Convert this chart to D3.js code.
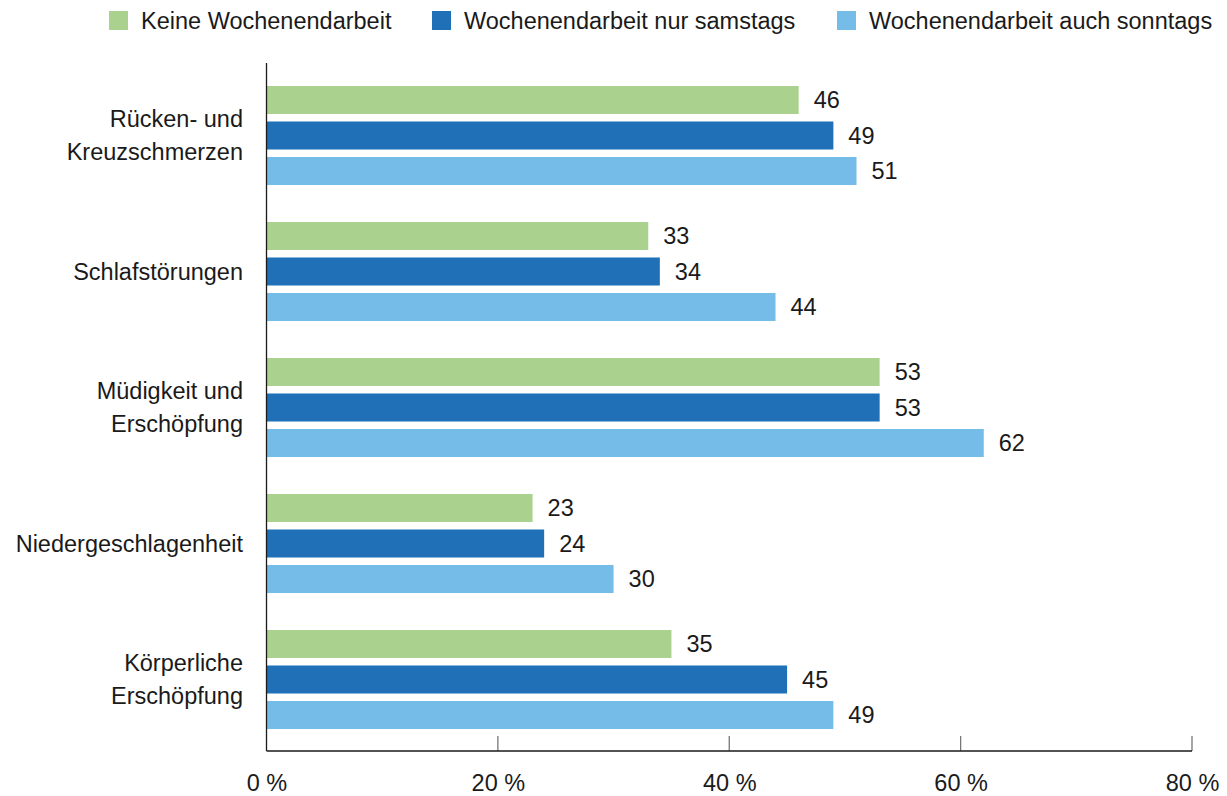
<!DOCTYPE html>
<html>
<head>
<meta charset="utf-8">
<script src="https://cdn.jsdelivr.net/npm/d3@7"></script>
<style>
  body { margin: 0; background: #fff; }
  svg text { font-family: "Liberation Sans", Arial, sans-serif; fill: #1a1a1a; }
</style>
</head>
<body>
<div id="chart"></div>
<script>
var categories = [
  ["Rücken- und", "Kreuzschmerzen"],
  ["Schlafstörungen"],
  ["Müdigkeit und", "Erschöpfung"],
  ["Niedergeschlagenheit"],
  ["Körperliche", "Erschöpfung"]
]
var seriesNames = ["Keine Wochenendarbeit", "Wochenendarbeit nur samstags", "Wochenendarbeit auch sonntags"]
var keine = [46, 33, 53, 23, 35]
var samstags = [49, 34, 53, 24, 45]
var sonntags = [51, 44, 62, 30, 49]
var tickValues = [0, 20, 40, 60, 80]

var colors = ["#abd18f", "#1f70b7", "#75bde8"]
var conf = { w: 1227, h: 796, left: 266.5, right: 1192, top: 67.5, bottom: 751, fs: 23.5 }

var values = [keine, samstags, sonntags]
var rows = categories.map((c, i) => ({ label: c, idx: i, vals: values.map((s, k) => ({ k: k, v: s[i] })) }))

var svg = d3.select('#chart').append('svg')
    .attr('width', conf.w).attr('height', conf.h)

var x = d3.scaleLinear().domain([0, 80]).range([conf.left, conf.right])
var y = d3.scaleBand().domain(d3.range(categories.length)).range([conf.top, conf.top + 136 * 5])
var yInner = d3.scaleBand().domain([0, 1, 2]).range([18.5, 117.5]).paddingInner(0.211)

// bars
var groups = svg.selectAll('.grp')
  .data(rows)
  .enter()
  .append('g')
  .attr('class', 'grp')
  .attr('transform', d => 'translate(0,' + y(d.idx) + ')')

groups.selectAll('rect')
  .data(d => d.vals)
  .enter()
  .append('rect')
  .attr('x', x(0))
  .attr('y', d => yInner(d.k))
  .attr('width', d => x(d.v) - x(0))
  .attr('height', yInner.bandwidth())
  .attr('fill', d => colors[d.k])

groups.selectAll('.val')
  .data(d => d.vals)
  .enter()
  .append('text')
  .attr('class', 'val')
  .attr('x', d => x(d.v) + 15)
  .attr('y', d => yInner(d.k) + yInner.bandwidth() / 2)
  .attr('dy', '0.36em')
  .attr('font-size', conf.fs)
  .text(d => d.v)

// category labels
groups.append('text')
  .attr('text-anchor', 'end')
  .attr('font-size', conf.fs)
  .attr('x', 243)
  .attr('y', d => y.bandwidth() / 2 - (d.label.length - 1) * 16.5)
  .selectAll('tspan')
  .data(d => d.label)
  .enter()
  .append('tspan')
  .attr('x', 243)
  .attr('dy', (d, i) => i == 0 ? '0.36em' : 33)
  .text(d => d)

// x axis
var xAxis = d3.axisBottom(x).tickValues(tickValues).tickSize(0).tickFormat(d => d + ' %')
var ax = svg.append('g').attr('transform', 'translate(0,' + conf.bottom + ')').call(xAxis)
ax.select('.domain').remove()
ax.selectAll('text').attr('font-size', conf.fs).attr('dy', 0).attr('y', 40).attr('fill', '#1a1a1a')

// upward ticks
svg.selectAll('.tick-up')
  .data(tickValues.slice(1))
  .enter()
  .append('line')
  .attr('x1', d => x(d)).attr('x2', d => x(d))
  .attr('y1', conf.bottom - 15).attr('y2', conf.bottom)
  .attr('stroke', '#777').attr('stroke-width', 1.3)

svg.append('line')
  .attr('x1', conf.left).attr('x2', conf.right)
  .attr('y1', conf.bottom).attr('y2', conf.bottom)
  .attr('stroke', '#1a1a1a').attr('stroke-width', 1.3)
svg.append('line')
  .attr('x1', conf.left).attr('x2', conf.left)
  .attr('y1', 63).attr('y2', conf.bottom)
  .attr('stroke', '#1a1a1a').attr('stroke-width', 1.3)

// legend
var legX = [109, 432, 837]
var leg = svg.selectAll('.leg')
  .data(seriesNames)
  .enter()
  .append('g')
  .attr('class', 'leg')
  .attr('transform', (d, i) => 'translate(' + legX[i] + ',11)')
leg.append('rect').attr('width', 19).attr('height', 19).attr('fill', (d, i) => colors[i])
leg.append('text').attr('x', 32).attr('y', 10).attr('dy', '0.36em').attr('font-size', conf.fs).text(d => d)
</script>
</body>
</html>
